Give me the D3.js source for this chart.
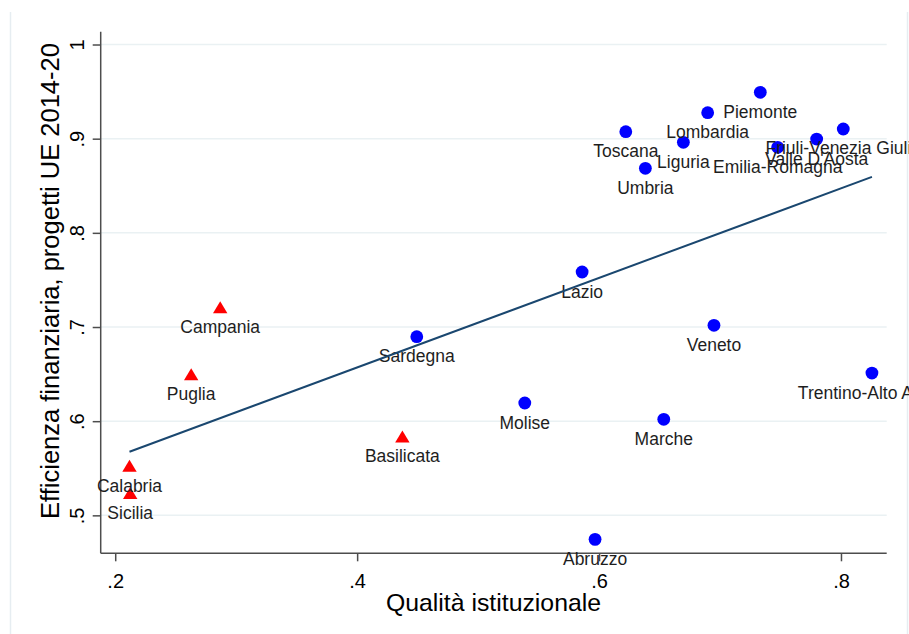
<!DOCTYPE html>
<html>
<head>
<meta charset="utf-8">
<script src="https://cdn.jsdelivr.net/npm/d3@7"></script>
<style>
  html, body { margin: 0; padding: 0; background: #fff; }
  svg { display: block; font-family: "Liberation Sans", Arial, sans-serif; }
</style>
</head>
<body>
<svg id="chart" width="909" height="634"></svg>
<script>
// Regions of the South (drawn as red triangles)
const southRegions = ["Campania", "Puglia", "Calabria", "Sicilia", "Basilicata"];
const southQuality = [0.2868, 0.2628, 0.2118, 0.2124, 0.4374];
const southEfficiency = [0.7209, 0.6497, 0.5524, 0.5234, 0.5835];

// Other regions (drawn as blue circles)
const otherRegions = ["Sardegna", "Lazio", "Veneto", "Trentino-Alto Adige", "Molise", "Marche",
  "Abruzzo", "Piemonte", "Lombardia", "Toscana", "Liguria", "Umbria", "Emilia-Romagna",
  "Valle D'Aosta", "Friuli-Venezia Giulia"];
const otherQuality = [0.4493, 0.5860, 0.6950, 0.8256, 0.5386, 0.6535,
  0.5967, 0.7333, 0.6898, 0.6221, 0.6697, 0.6383, 0.7477,
  0.7799, 0.8019];
const otherEfficiency = [0.6897, 0.7584, 0.7018, 0.6511, 0.6193, 0.6020,
  0.4745, 0.9492, 0.9276, 0.9074, 0.8961, 0.8685, 0.8908,
  0.8996, 0.9103];

// Axis ticks
const xTicks = [0.2, 0.4, 0.6, 0.8];
const yTicks = [0.5, 0.6, 0.7, 0.8, 0.9, 1.0];
const xTitle = "Qualità istituzionale";
const yTitle = "Efficienza finanziaria, progetti UE 2014-20";

const svg = d3.select("#chart");

const plot = { left: 100.7, right: 886.7, top: 31.7, bottom: 553.3 };
const x = d3.scaleLinear().domain([0.188, 0.8378]).range([plot.left, plot.right]);
const y = d3.scaleLinear().domain([0.4597, 1.0136]).range([plot.bottom, plot.top]);

const fmt = v => (v === 1 ? "1" : d3.format(".1f")(v).replace(/^0/, ""));

// Outer frame edges
svg.append("line").attr("x1", 10.5).attr("x2", 10.5).attr("y1", 12).attr("y2", 634)
  .attr("stroke", "#e6edf1").attr("stroke-width", 1.5);
svg.append("line").attr("x1", 907.5).attr("x2", 907.5).attr("y1", 12).attr("y2", 634)
  .attr("stroke", "#e6edf1").attr("stroke-width", 1.5);

// Horizontal gridlines
svg.append("g").selectAll("line").data(yTicks).join("line")
  .attr("x1", plot.left).attr("x2", plot.right)
  .attr("y1", d => y(d)).attr("y2", d => y(d))
  .attr("stroke", "#eaf1f3").attr("stroke-width", 1.5);

// Y axis
const yAxis = svg.append("g")
  .attr("transform", `translate(${plot.left},0)`)
  .call(d3.axisLeft(y).tickValues(yTicks).tickFormat(fmt).tickSize(8).tickSizeOuter(0));
yAxis.select(".domain").attr("d", `M0,${plot.top}V${plot.bottom}`).attr("stroke", "#4d4d4d").attr("stroke-width", 1.5);
yAxis.selectAll(".tick line").attr("stroke", "#4d4d4d").attr("stroke-width", 1.5);
yAxis.selectAll(".tick text")
  .attr("transform", "rotate(-90)")
  .attr("x", 0).attr("y", -16.5).attr("dy", null)
  .attr("text-anchor", "middle")
  .attr("font-size", 20).attr("fill", "#000")
  .attr("font-family", "Liberation Sans, Arial, sans-serif");

// X axis
const xAxis = svg.append("g")
  .attr("transform", `translate(0,${plot.bottom})`)
  .call(d3.axisBottom(x).tickValues(xTicks).tickFormat(fmt).tickSize(8).tickSizeOuter(0));
xAxis.select(".domain").attr("d", `M${plot.left},0H${plot.right}`).attr("stroke", "#4d4d4d").attr("stroke-width", 1.5);
xAxis.selectAll(".tick line").attr("stroke", "#4d4d4d").attr("stroke-width", 1.5);
xAxis.selectAll(".tick text")
  .attr("y", 35).attr("dy", null)
  .attr("font-size", 20).attr("fill", "#000")
  .attr("font-family", "Liberation Sans, Arial, sans-serif");

// Axis titles
svg.append("text").attr("x", 493.5).attr("y", 611)
  .attr("text-anchor", "middle").attr("font-size", 24.8).attr("fill", "#000")
  .text(xTitle);
svg.append("text")
  .attr("transform", `translate(58.5,281) rotate(-90)`)
  .attr("text-anchor", "middle").attr("font-size", 25.5).attr("fill", "#000")
  .text(yTitle);

// Point records
const south = southRegions.map((n, i) => ({ name: n, q: southQuality[i], e: southEfficiency[i] }));
const other = otherRegions.map((n, i) => ({ name: n, q: otherQuality[i], e: otherEfficiency[i] }));
const all = south.concat(other);

// Blue circles
svg.append("g").selectAll("circle").data(other).join("circle")
  .attr("cx", d => x(d.q)).attr("cy", d => y(d.e)).attr("r", 6.4)
  .attr("fill", "#0000ff");

// Red triangles
const tri = (cx, cy) => {
  const p = d3.path();
  p.moveTo(cx, cy - 6.2);
  p.lineTo(cx + 7.2, cy + 5.8);
  p.lineTo(cx - 7.2, cy + 5.8);
  p.closePath();
  return p.toString();
};
svg.append("g").selectAll("path").data(south).join("path")
  .attr("d", d => tri(x(d.q), y(d.e)))
  .attr("fill", "#ff0000");

// Marker labels below each point
svg.append("g").selectAll("text").data(all).join("text")
  .attr("x", d => x(d.q)).attr("y", d => y(d.e) + 25.5)
  .attr("text-anchor", "middle").attr("font-size", 17.5).attr("fill", "#1e1e1e")
  .text(d => d.name);

// Linear fit across the observed range
const mx = d3.mean(all, d => d.q), my = d3.mean(all, d => d.e);
const slope = d3.sum(all, d => (d.q - mx) * (d.e - my)) / d3.sum(all, d => (d.q - mx) ** 2);
const icpt = my - slope * mx;
const [qmin, qmax] = d3.extent(all, d => d.q);
const fit = [qmin, qmax].map(q => ({ q, e: icpt + slope * q }));
svg.append("path").datum(fit)
  .attr("d", d3.line().x(d => x(d.q)).y(d => y(d.e)))
  .attr("fill", "none").attr("stroke", "#1a476f").attr("stroke-width", 2);
</script>
</body>
</html>
